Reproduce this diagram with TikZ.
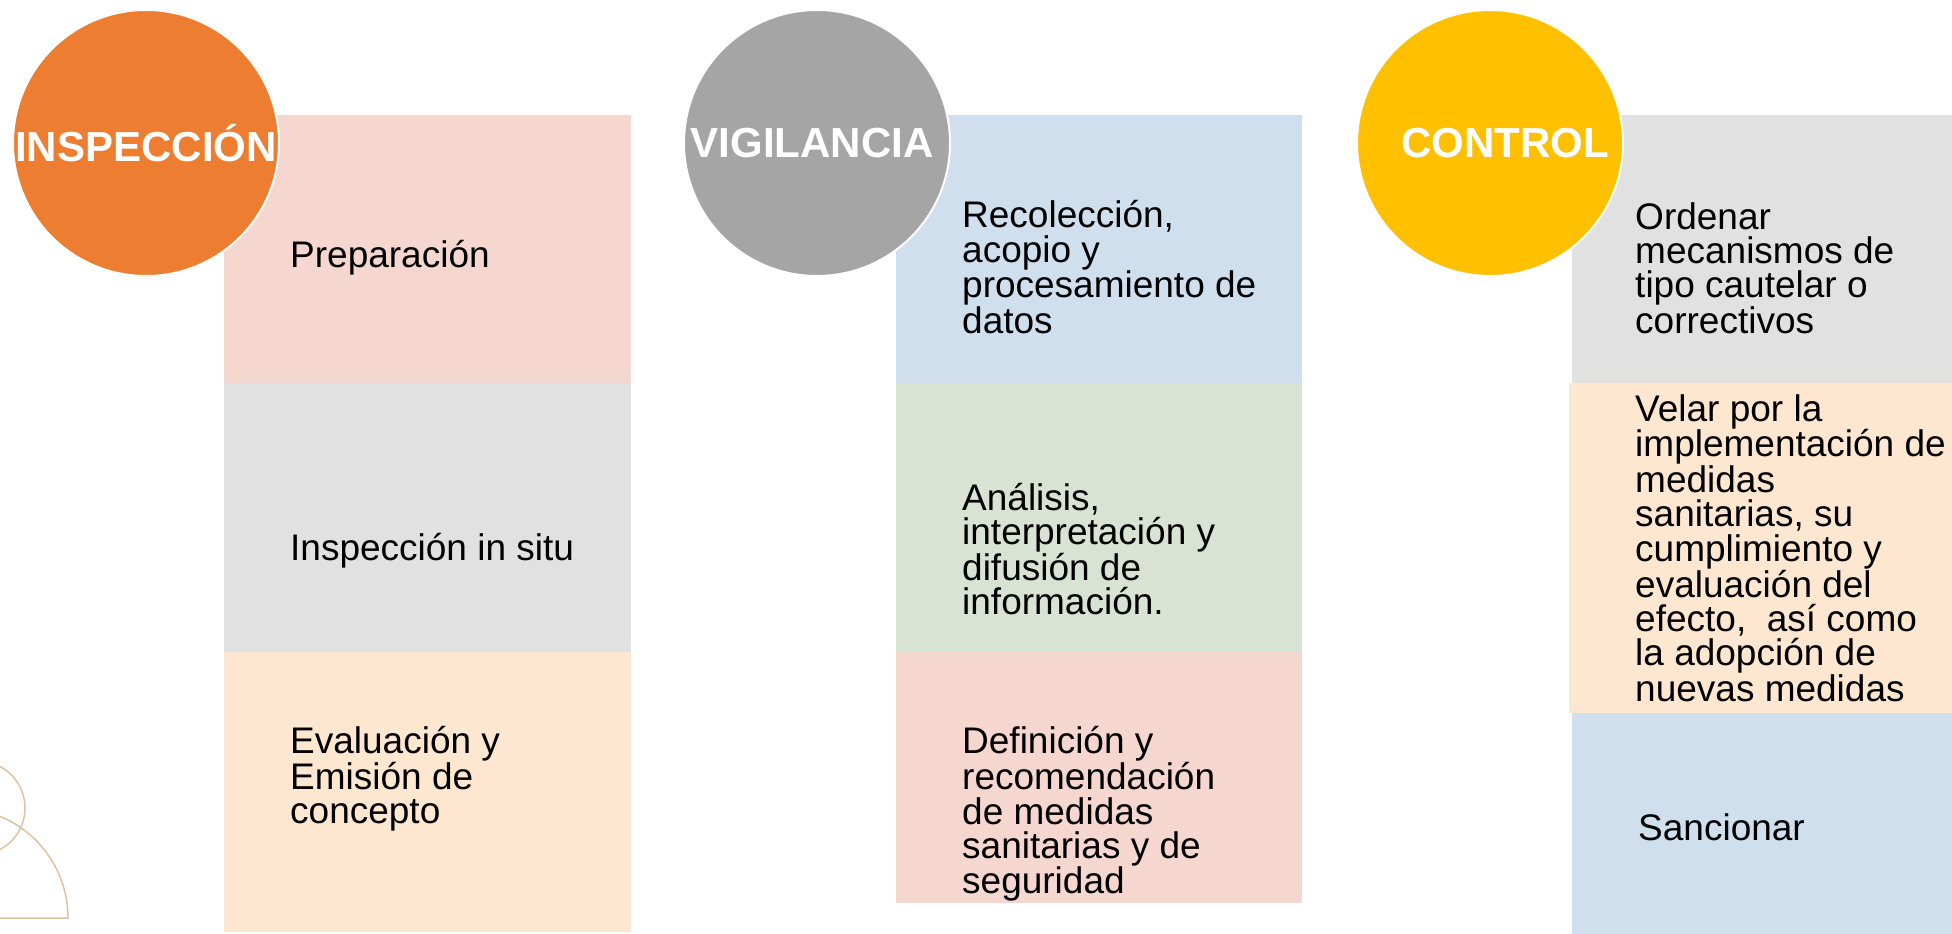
\documentclass[tikz,border=0pt]{standalone}
\usepackage{fontspec}
\setmainfont{Liberation Sans}
\definecolor{naranja}{HTML}{ED7D31}
\definecolor{gris}{HTML}{A5A5A5}
\definecolor{amarillo}{HTML}{FFC000}
\definecolor{rosa}{HTML}{F5D7D0}
\definecolor{grisclaro}{HTML}{E1E1E1}
\definecolor{durazno}{HTML}{FDE7D0}
\definecolor{azul}{HTML}{D0DFEE}
\definecolor{verde}{HTML}{D9E3D4}
\definecolor{beige}{HTML}{DCC2A2}
\begin{document}
\begin{tikzpicture}[x=1pt, y=-1pt,
    box/.style={anchor=north west, inner sep=0pt, outer sep=0pt},
    circ/.style={circle, draw=white, line width=2pt, minimum size=266pt, inner sep=0pt},
    title/.style={text=white, inner sep=0pt, font=\fontsize{42}{44}\selectfont\bfseries},
    body/.style={anchor=west, align=left, inner sep=0pt, font=\fontsize{37}{34.4}\selectfont}]
        \useasboundingbox (0,0) rectangle (1952,934);

        % Person outline
        \draw[beige, line width=1.5pt] (-22,808) circle (47);
        \draw[beige, line width=1.5pt] (68,918) arc[start angle=0, end angle=-180, radius=110] -- cycle;

        % Inspeccion
        \node[box, fill=rosa, minimum width=407pt, minimum height=268pt] (prep) at (224,115) {};
        \node[box, fill=grisclaro, minimum width=407pt, minimum height=269pt] (situ) at (224,383) {};
        \node[box, fill=durazno, minimum width=407pt, minimum height=280pt] (eval) at (224,652) {};
        \node[body] (prep-t) at (290,258) {Preparación};
        \node[body] (situ-t) at (290,551) {Inspección in situ};
        \node[body] (eval-t) at (290,779) {Evaluación y\\Emisión de\\concepto};
        \node[circ, fill=naranja] (insp) at (146,143) {};
        \node[title] (insp-t) at (146,143) {INSPECCIÓN};

        % Vigilancia
        \node[box, fill=azul, minimum width=406pt, minimum height=268pt] (reco) at (896,115) {};
        \node[box, fill=verde, minimum width=406pt, minimum height=269pt] (anal) at (896,383) {};
        \node[box, fill=rosa, minimum width=406pt, minimum height=251pt] (defi) at (896,652) {};
        \node[body] (reco-t) at (962,267) {Recolección,\\acopio y\\procesamiento de\\datos};
        \node[body] (anal-t) at (962,549) {Análisis,\\interpretación y\\difusión de\\información.};
        \node[body] (defi-t) at (962,814) {Definición y\\recomendación\\de medidas\\sanitarias y de\\seguridad};
        \node[circ, fill=gris] (vigi) at (817,143) {};
        \node[title] (vigi-t) at (812,143) {VIGILANCIA};

        % Control
        \node[box, fill=grisclaro, minimum width=380pt, minimum height=268pt] (orde) at (1572,115) {};
        \node[box, fill=durazno, minimum width=383pt, minimum height=330pt] (vela) at (1569,383) {};
        \node[box, fill=azul, minimum width=380pt, minimum height=221pt] (sanc) at (1572,713) {};
        \node[body] (orde-t) at (1635,268) {Ordenar\\mecanismos de\\tipo cautelar o\\correctivos};
        \node[body] (vela-t) at (1635,548) {Velar por la\\implementación de\\medidas\\sanitarias, su\\cumplimiento y\\evaluación del\\efecto,~ así como\\la adopción de\\nuevas medidas};
        \node[body] (sanc-t) at (1638,827) {Sancionar};
        \node[circ, fill=amarillo] (ctrl) at (1490,143) {};
        \node[title] (ctrl-t) at (1505,143) {CONTROL};

      \end{tikzpicture}
\end{document}
